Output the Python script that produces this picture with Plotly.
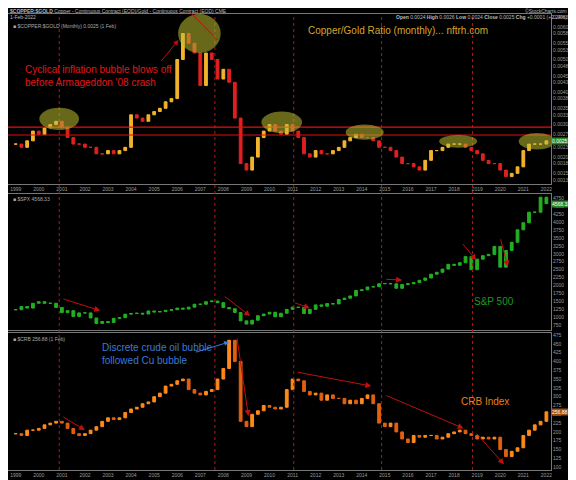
import pandas as pd
import plotly.graph_objects as go
from plotly.subplots import make_subplots

# quarterly closes, 1999 Q1 .. 2022 Q1
cu_gold = [
    0.0024, 0.0023, 0.0025, 0.0028,
    0.0027, 0.0029, 0.0030, 0.0031,
    0.0029, 0.0026, 0.0024, 0.0024,
    0.0023, 0.0023, 0.0021, 0.0021,
    0.0022, 0.0021, 0.0022, 0.0023,
    0.0033, 0.0032, 0.0031, 0.0033,
    0.0034, 0.0035, 0.0037, 0.0038,
    0.0050, 0.0058, 0.0055, 0.0052,
    0.0042, 0.0052, 0.0050, 0.0044,
    0.0047, 0.0043, 0.0032, 0.0018,
    0.0016, 0.0020, 0.0026, 0.0028,
    0.0030, 0.0028, 0.0027, 0.0030,
    0.0028, 0.0026, 0.0021, 0.0020,
    0.0022, 0.0021, 0.0021, 0.0022,
    0.0023, 0.0025, 0.0026, 0.0027,
    0.0026, 0.0026, 0.0025, 0.0023,
    0.0023, 0.0022, 0.0020, 0.0018,
    0.0018, 0.0017, 0.0016, 0.0019,
    0.0022, 0.0022, 0.0023, 0.0024,
    0.0024, 0.0024, 0.0023, 0.0022,
    0.0021, 0.0019, 0.0018, 0.0018,
    0.0016, 0.0014, 0.0015, 0.0017,
    0.0022, 0.0024, 0.0024, 0.0024,
    0.0025,
]
spx = [
    1250, 1350, 1300, 1450, 1500, 1450, 1450, 1320, 1160, 1220, 1040, 1150,
    1150, 990, 820, 880, 850, 980, 1000, 1110, 1130, 1140, 1115, 1210,
    1180, 1190, 1230, 1250, 1300, 1270, 1330, 1420, 1420, 1500, 1520, 1470,
    1320, 1280, 1160, 900, 800, 920, 1060, 1115, 1170, 1030, 1140, 1260,
    1330, 1320, 1130, 1260, 1400, 1360, 1440, 1430, 1570, 1610, 1680, 1850,
    1870, 1960, 1970, 2060, 2070, 2060, 1920, 2040, 2060, 2100, 2170, 2240,
    2360, 2420, 2520, 2670, 2640, 2720, 2910, 2500, 2830, 2940, 2980, 3230,
    2580, 3100, 3360, 3750, 3970, 4300, 4300, 4770, 4568,
]
crb = [
    195, 190, 205, 205, 210, 220, 225, 230, 225, 210, 195, 190,
    195, 205, 215, 230, 240, 235, 240, 255, 265, 270, 280, 285,
    300, 310, 330, 335, 345, 350, 320, 310, 305, 315, 320, 350,
    380, 460, 400, 230, 215, 250, 260, 275, 270, 265, 270, 320,
    350, 345, 315, 305, 310, 290, 305, 295, 295, 280, 290, 280,
    295, 305, 280, 225, 215, 225, 200, 180, 170, 190, 185, 190,
    190, 180, 185, 195, 200, 205, 195, 190, 180, 185, 180, 185,
    150, 130, 145, 155, 190, 205, 220, 230, 257,
]
dates = pd.date_range("1999-01-01", periods=len(crb), freq="QS")
year_ticks = [f"{y}-01-01" for y in range(1999, 2023)]
year_labels = [str(y) for y in range(1999, 2023)]
cycle_lines = ["2000-11-20", "2007-08-20", "2011-01-20", "2014-11-10", "2018-10-20"]


def ohlc(closes):
    opens = [closes[0]] + closes[:-1]
    return opens, [max(a, b) for a, b in zip(opens, closes)], [min(a, b) for a, b in zip(opens, closes)]


fig = make_subplots(rows=3, cols=1, shared_xaxes=True, vertical_spacing=0.0)

series = [
    (cu_gold, "#f2b42c", "#e02020"),
    (spx, "#22b022", "#22b022"),
    (crb, "#ff8a1a", "#e06010"),
]
for i, (vals, up, down) in enumerate(series):
    o, h, l = ohlc(vals)
    fig.add_trace(
        go.Candlestick(
            x=dates, open=o, high=h, low=l, close=vals,
            increasing=dict(line=dict(color=up, width=1), fillcolor=up),
            decreasing=dict(line=dict(color=down, width=1), fillcolor=down),
            showlegend=False,
        ),
        row=i + 1, col=1,
    )

ax_font = dict(family="Liberation Sans", size=5, color="#9a9a9a")
fig.update_layout(
    width=568, height=472,
    paper_bgcolor="black", plot_bgcolor="black",
    margin=dict(l=0, r=25, t=6, b=10),
    showlegend=False,
    font=dict(family="Liberation Sans"),
    yaxis=dict(domain=[0.627, 1.0], range=[0.00117, 0.0064], side="right",
               tickvals=[0.0013, 0.0015, 0.0018, 0.0020, 0.0023, 0.0025, 0.0027, 0.0030,
                         0.0033, 0.0035, 0.0038, 0.0040, 0.0043, 0.0045, 0.0048, 0.0050,
                         0.0053, 0.0055, 0.0058, 0.0060, 0.0063],
               tickformat=".4f"),
    yaxis2=dict(domain=[0.306, 0.606], range=[600, 4880], side="right",
                tickvals=list(range(750, 4751, 250))),
    yaxis3=dict(domain=[0.0, 0.3], range=[92, 480], side="right",
                tickvals=list(range(100, 476, 25))),
)
fig.update_xaxes(
    rangeslider_visible=False, range=["1998-09-01", "2022-03-15"], automargin=False,
    tickvals=year_ticks, ticktext=year_labels, tickfont=ax_font, ticks="",
    showgrid=False, showline=True, linecolor="#777", mirror=True, zeroline=False,
)
fig.update_xaxes(showticklabels=True, row=1, col=1)
fig.update_xaxes(showticklabels=False, row=2, col=1)
fig.update_xaxes(showticklabels=True, row=3, col=1)
fig.update_yaxes(tickfont=ax_font, showgrid=False, showline=True, linecolor="#777",
                 mirror=True, zeroline=False, ticks="", automargin=False)

shapes = []
for d in cycle_lines:
    shapes.append(dict(type="line", xref="x", yref="paper", x0=d, x1=d, y0=0, y1=1,
                       line=dict(color="#c01010", width=1, dash="dot")))
for yv in [0.00292, 0.00268]:
    shapes.append(dict(type="line", xref="paper", yref="y", x0=0, x1=1, y0=yv, y1=yv,
                       line=dict(color="#e01010", width=1.2)))
ellipses = [
    ("2000-01-10", "2001-09-30", 0.00283, 0.00352),
    ("2006-01-15", "2007-11-20", 0.0052, 0.0064),
    ("2009-08-25", "2011-06-01", 0.00274, 0.0034),
    ("2013-04-20", "2014-12-15", 0.00253, 0.0030),
    ("2017-05-10", "2019-01-01", 0.00229, 0.00268),
    ("2020-10-20", "2022-05-20", 0.00223, 0.00274),
]
for x0, x1, y0, y1 in ellipses:
    shapes.append(dict(type="circle", xref="x", yref="y", x0=x0, x1=x1, y0=y0, y1=y1,
                       fillcolor="rgba(190,190,50,0.55)", line=dict(width=0)))
fig.update_layout(shapes=shapes)

hdr = dict(family="Liberation Sans", size=5, color="#bbbbbb")
ann = [
    dict(x=0.0, y=1.0, xref="paper", yref="paper", xanchor="left", yanchor="bottom",
         yshift=-2, text="<b>$COPPER:$GOLD</b> Copper - Continuous Contract (EOD)/Gold - Continuous Contract (EOD) CME",
         font=hdr, showarrow=False),
    dict(x=1.0, y=1.0, xref="paper", yref="paper", xanchor="right", yanchor="bottom",
         yshift=-2, xshift=18, text="©StockCharts.com", font=hdr, showarrow=False),
    dict(x=0.0, y=1.0, xref="paper", yref="paper", xanchor="left", yanchor="bottom",
         yshift=-8, text="1-Feb-2022", font=hdr, showarrow=False),
    dict(x=1.0, y=1.0, xref="paper", yref="paper", xanchor="right", yanchor="bottom",
         yshift=-8, xshift=18,
         text="<b>Open</b> 0.0024 <b>High</b> 0.0026 <b>Low</b> 0.0024 <b>Close</b> 0.0025 <b>Chg</b> +0.0001 (+2.24%)",
         font=hdr, showarrow=False),
    dict(x=0.005, y=0.995, xref="paper", yref="y domain", xanchor="left", yanchor="top",
         yshift=-6, text="■ $COPPER:$GOLD (Monthly) 0.0025 (1 Feb)", font=dict(size=5, color="#aaa"), showarrow=False),
    dict(x=0.005, y=0.995, xref="paper", yref="y2 domain", xanchor="left", yanchor="top",
         text="■ $SPX 4568.33", font=dict(size=5, color="#aaa"), showarrow=False),
    dict(x=0.005, y=0.995, xref="paper", yref="y3 domain", xanchor="left", yanchor="top",
         text="■ $CRB 256.88 (1 Feb)", font=dict(size=5, color="#aaa"), showarrow=False),
    dict(x="2011-08-01", y=0.0059, xref="x", yref="y", xanchor="left",
         text="Copper/Gold Ratio (monthly)... nftrh.com",
         font=dict(size=10, color="#d4a62a"), showarrow=False),
    dict(x="1999-05-01", y=0.0045, xref="x", yref="y", xanchor="left", align="left",
         text="Cyclical inflation bubble blows off<br>before Armageddon '08 crash",
         font=dict(size=10, color="#e01818"), showarrow=False),
    dict(x="2006-01-20", y=0.0056, ax="2005-04-01", ay=0.0049, xref="x", yref="y",
         axref="x", ayref="y", showarrow=True, arrowhead=2, arrowsize=1, arrowwidth=1,
         arrowcolor="#c01010", text=""),
    dict(x="2007-10-01", y=0.0056, ax="2006-07-01", ay=0.0065, xref="x", yref="y",
         axref="x", ayref="y", showarrow=True, arrowhead=0, arrowwidth=1,
         arrowcolor="#c01010", text=""),
    dict(x="2019-10-01", y=1500, xref="x", yref="y2", xanchor="center",
         text="S&P 500", font=dict(size=10, color="#1f9a1f"), showarrow=False),
    dict(x="2002-09-01", y=420, xref="x", yref="y3", xanchor="left", align="left",
         text="Discrete crude oil bubble<br>followed Cu bubble",
         font=dict(size=10, color="#3a7ad8"), showarrow=False),
    dict(x="2008-04-01", y=455, ax="2006-10-01", ay=425, xref="x", yref="y3",
         axref="x", ayref="y3", showarrow=True, arrowhead=2, arrowwidth=1,
         arrowcolor="#3a7ad8", text=""),
    dict(x="2019-05-01", y=285, xref="x", yref="y3", xanchor="center",
         text="CRB Index", font=dict(size=10, color="#e8801a"), showarrow=False),
]
arrows = [
    ("y2", "2001-01-01", 1600, "2002-09-01", 1220),
    ("y2", "2008-01-01", 1700, "2009-03-01", 1050),
    ("y2", "2011-01-15", 1480, "2011-10-01", 1300),
    ("y2", "2015-01-01", 2200, "2015-10-01", 2180),
    ("y2", "2018-05-01", 3350, "2018-12-15", 2800),
    ("y2", "2020-01-01", 3500, "2020-05-01", 2600),
    ("y3", "2001-01-01", 245, "2002-01-01", 205),
    ("y3", "2008-08-01", 470, "2009-02-01", 245),
    ("y3", "2011-03-01", 370, "2014-06-01", 330),
    ("y3", "2015-01-01", 305, "2018-06-01", 210),
    ("y3", "2018-12-01", 200, "2020-03-01", 108),
]
for yr_, x0, y0, x1, y1 in arrows:
    ann.append(dict(x=x1, y=y1, ax=x0, ay=y0, xref="x", yref=yr_, axref="x", ayref=yr_,
                    showarrow=True, arrowhead=2, arrowsize=1.2, arrowwidth=1,
                    arrowcolor="#c01010", text=""))
for yr_, val, txt, bg in [("y", 0.0025, "0.0025", "#2a8a2a"), ("y2", 4568, "4568.33", "#2a8a2a"),
                          ("y3", 257, "256.88", "#a05010")]:
    ann.append(dict(x=1.0, y=val, xref="paper", yref=yr_, xanchor="left", xshift=0,
                    text=txt, bgcolor=bg, borderpad=0, font=dict(size=5, color="white"),
                    showarrow=False))
fig.update_layout(annotations=ann)

fig.write_html("out.html")
